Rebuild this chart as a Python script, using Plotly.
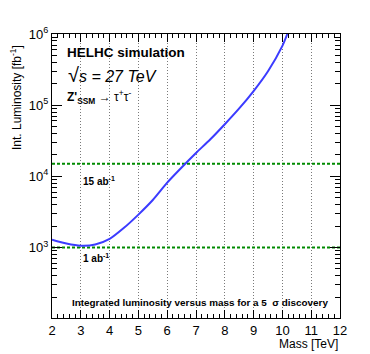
import plotly.graph_objects as go

# Data
mass = [2, 2.5, 3, 3.5, 4, 4.5, 5, 5.5, 6, 6.5, 7, 7.5, 8, 8.5, 9, 9.5, 10, 10.17]
lumi = [1290, 1140, 1060, 1100, 1320, 1890, 2900, 4650, 8150, 13300, 21300, 33200,
        54000, 90000, 158000, 300000, 680000, 1000000]
ref_lumis = [15000, 1000]
ref_labels = ["15 ab<sup>-1</sup>", "1 ab<sup>-1</sup>"]
x_range = [2, 12]
y_ticks = [1e3, 1e4, 1e5, 1e6]
y_ticktext = ["10<sup>3</sup>", "10<sup>4</sup>", "10<sup>5</sup>", "10<sup>6</sup>"]

FONT = "Liberation Sans, Arial, sans-serif"
OFF = 8  # default page body margin in the html

fig = go.Figure()
for rl in ref_lumis:
    fig.add_trace(go.Scatter(x=x_range, y=[rl, rl], mode="lines",
                             line=dict(color="#008a00", width=2, dash="3px,2px"),
                             showlegend=False, hoverinfo="skip"))
fig.add_trace(go.Scatter(x=mass, y=lumi, mode="lines",
                         line=dict(color="#3b3bff", width=2, shape="spline", smoothing=0.7),
                         showlegend=False))

minor_vals = [k * 10 ** e for e in range(2, 6) for k in range(2, 10)]

fig.update_layout(
    width=370 - OFF, height=354 - OFF,
    margin=dict(l=52 - OFF, r=30, t=34 - OFF, b=36, pad=0),
    paper_bgcolor="white", plot_bgcolor="white",
    font=dict(family=FONT, size=13, color="black"),
    xaxis=dict(range=x_range, dtick=1, tick0=2, showline=True, linecolor="black", linewidth=1,
               mirror="ticks", ticks="inside", ticklen=8, tickcolor="black",
               showgrid=True, gridcolor="#7a7a7a", griddash="1px,2px", gridwidth=1,
               zeroline=False,
               minor=dict(dtick=0.2, ticks="inside", ticklen=4, tickcolor="black", showgrid=False),
               tickfont=dict(size=13)),
    yaxis=dict(type="log", range=[2.01, 6], tickmode="array", tickvals=y_ticks, ticktext=y_ticktext,
               showline=True, linecolor="black", linewidth=1, mirror="ticks",
               ticks="inside", ticklen=10, tickcolor="black", showgrid=False, zeroline=False,
               minor=dict(tickmode="array", tickvals=minor_vals, ticks="inside", ticklen=5,
                          tickcolor="black", showgrid=False),
               tickfont=dict(size=13)),
)

def px_x(xp):
    return (xp - 52) / 288

def px_y(yp):
    return (318 - yp) / 284

ann = [
    dict(text="<b>HELHC simulation</b>", x=px_x(65), y=px_y(52), size=13.5, xanchor="left"),
    dict(text="<span style='font-size:20px'>√</span><i>s = 27 TeV</i>", x=px_x(66), y=px_y(75), size=16, xanchor="left"),
    dict(text="<b>Z'<sub>SSM</sub></b> → τ<sup>+</sup>τ<sup>-</sup>", x=px_x(65), y=px_y(97), size=12, xanchor="left"),
    dict(text="<b>Integrated luminosity versus mass for a 5  σ discovery</b>", x=px_x(200), y=px_y(302), size=9.9, xanchor="center"),
    dict(text="Mass [TeV]", x=px_x(340), y=px_y(344), size=12, xanchor="right"),
]
for a in ann:
    fig.add_annotation(text=a["text"], x=a["x"], y=a["y"], xref="paper", yref="paper",
                       xanchor=a["xanchor"], yanchor="middle", showarrow=False,
                       font=dict(family=FONT, size=a["size"], color="black"))

label_y = [181, 258]
for lab, ly in zip(ref_labels, label_y):
    fig.add_annotation(text="<b>" + lab + "</b>", x=3, xref="x", y=px_y(ly), yref="paper",
                       xanchor="left", yanchor="middle", showarrow=False,
                       font=dict(family=FONT, size=10, color="black"))

fig.add_annotation(text="Int. Luminosity [fb<sup>-1</sup>]", textangle=-90,
                   x=px_x(16), y=px_y(98), xref="paper", yref="paper",
                   xanchor="center", yanchor="middle", showarrow=False,
                   font=dict(family=FONT, size=12, color="black"))

fig.write_html("out.html")
